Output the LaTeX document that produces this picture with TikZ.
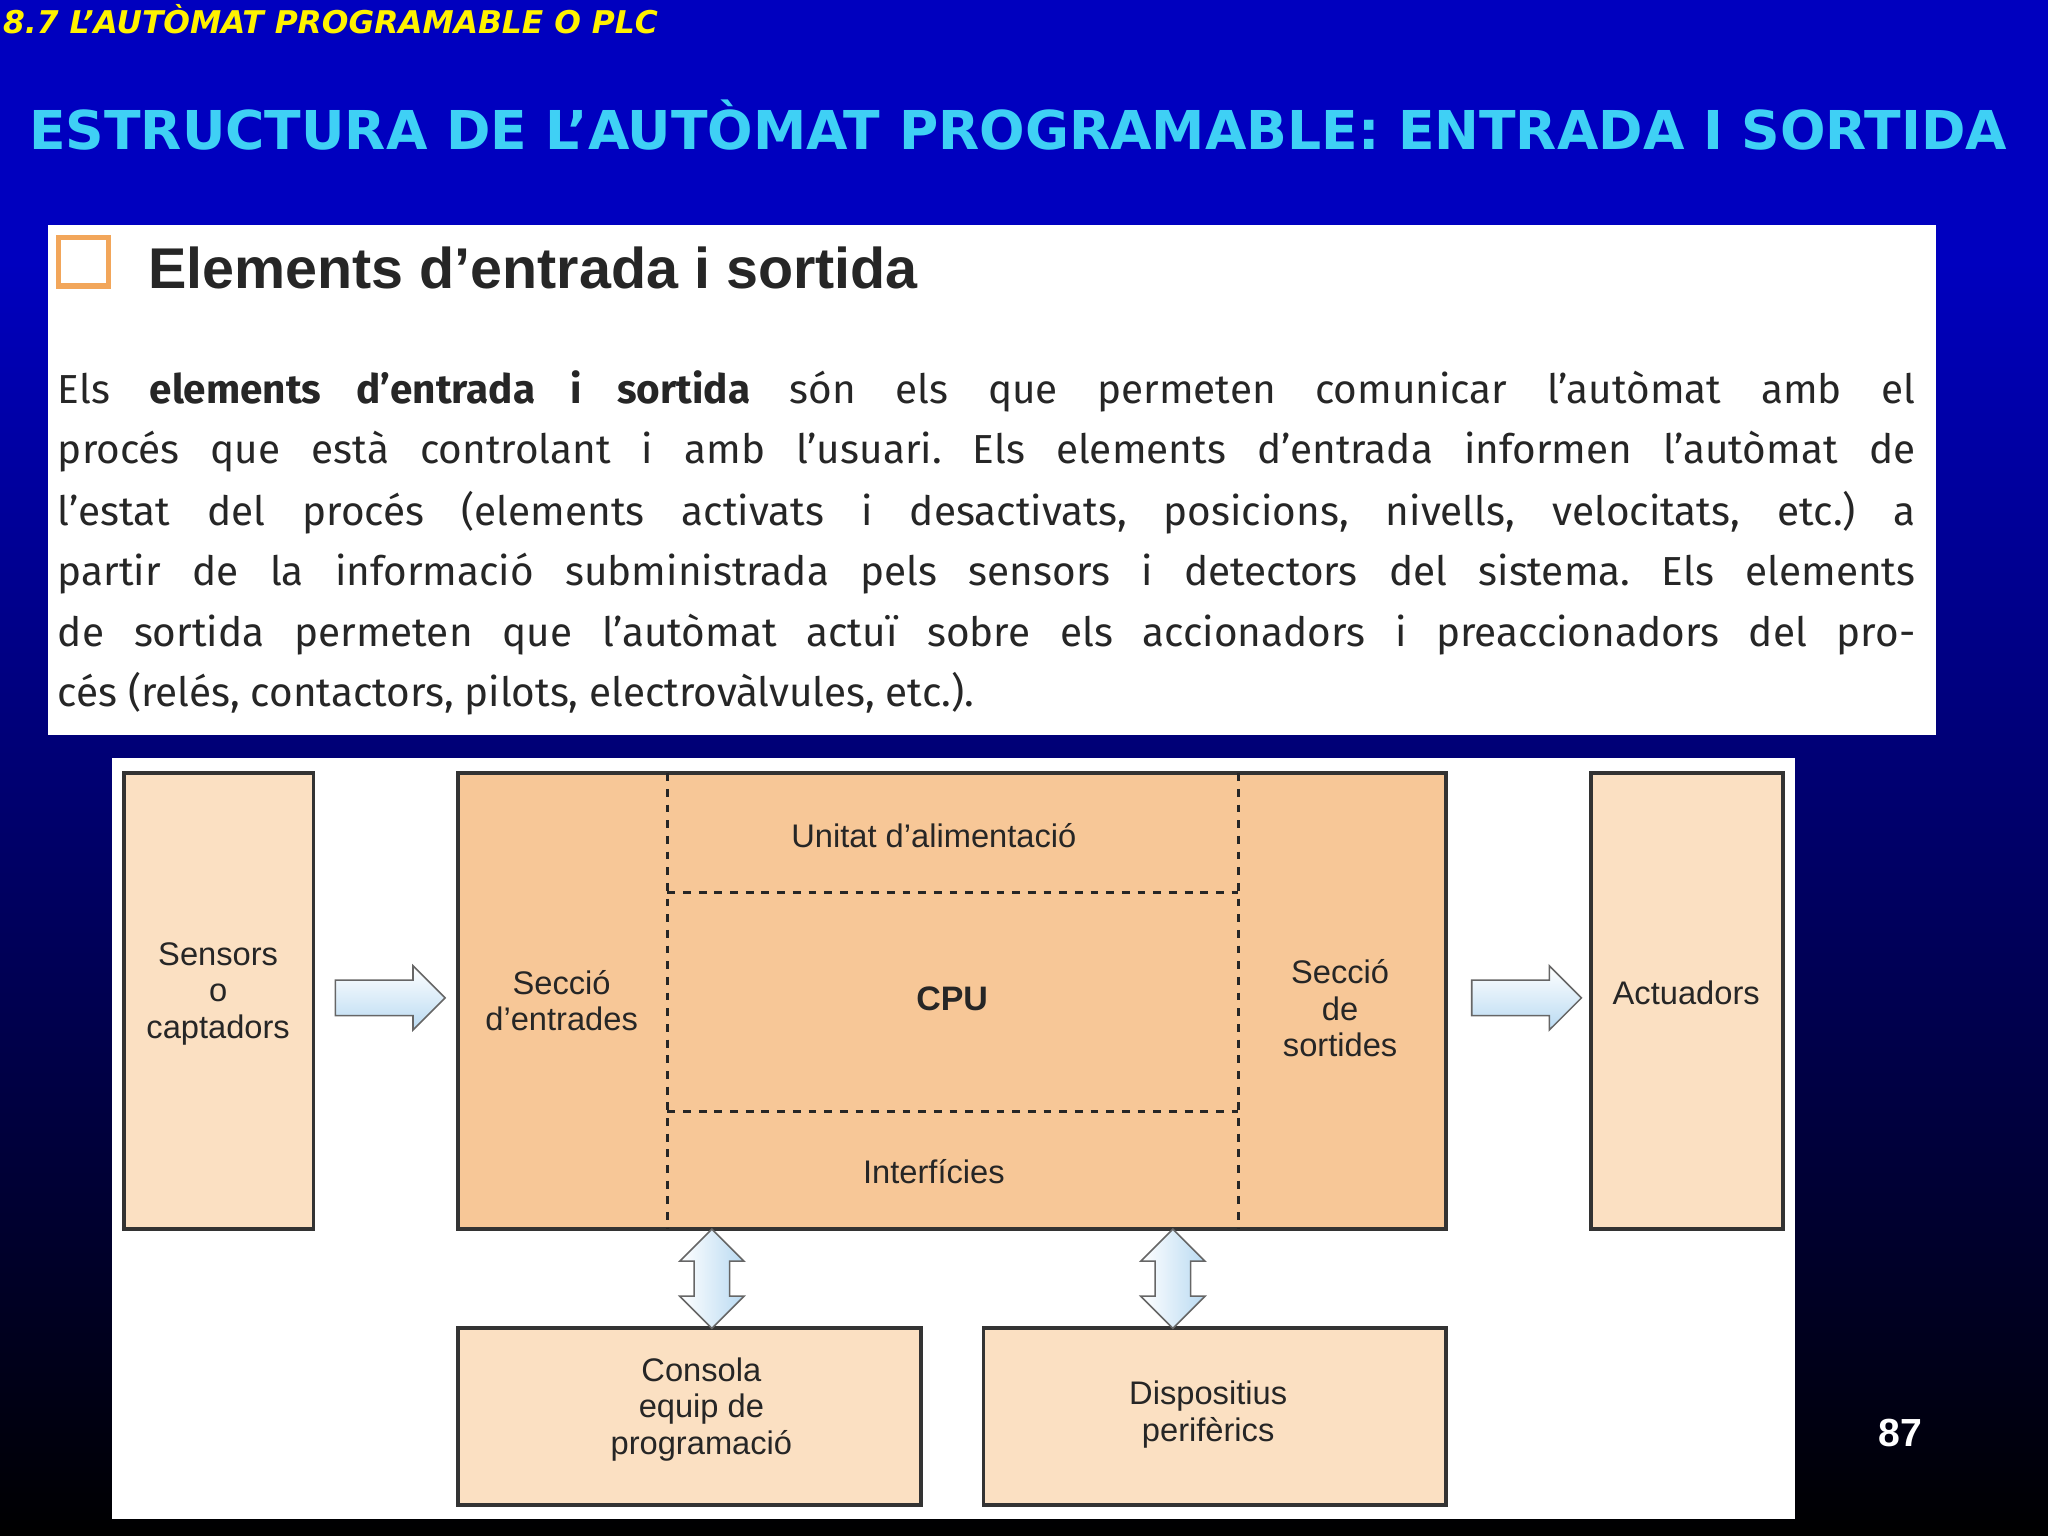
\documentclass[tikz,border=0pt]{standalone}
\usepackage{fontspec}
\setmainfont{Fira Sans}
\newfontfamily\hd{DejaVu Sans}
\newfontfamily\ls{Liberation Sans}
\usetikzlibrary{shapes.arrows}
\definecolor{peach}{HTML}{FBE0C2}
\definecolor{orng}{HTML}{F7C797}
\definecolor{ttl}{HTML}{3FD0F5}
\definecolor{arr}{HTML}{B9DAF2}
\tikzset{
 box/.style={draw=black!80,line width=1.5pt,inner sep=0pt},
 lbl/.style={font=\ls\fontsize{12.5}{14}\selectfont,align=center,text=black!85},
 barrow/.style={single arrow,draw=black!60,line width=0.6pt,top color=white,bottom color=arr,minimum height=42pt,minimum width=0pt,single arrow head extend=5.5pt,inner sep=0pt},
 darrow/.style={double arrow,draw=black!60,line width=0.6pt,left color=white,right color=arr,minimum height=38pt,minimum width=0pt,double arrow head extend=5.5pt,inner sep=0pt,rotate=90},
 dsh/.style={dashed,line width=1.2pt,black!85},
 pl/.style={anchor=base west,inner sep=0pt,font=\fontsize{15.5}{19}\selectfont\frenchspacing,text=black!85}
}
\begin{document}
\begin{tikzpicture}[x=0.5pt,y=-0.5pt]
\useasboundingbox (0,0) rectangle (1568,1176);
\fill[blue!75!black] (0,0) rectangle (1568,200);
\shade[top color=blue!75!black,bottom color=black] (0,200) rectangle (1568,1176);
\node[anchor=west,text=yellow,font=\hd\bfseries\itshape\fontsize{12}{14}\selectfont,inner sep=0pt] (sec) at (2,15) {8.7 L’AUTÒMAT PROGRAMABLE O PLC};
\node[anchor=west,text=ttl,font=\hd\bfseries\fontsize{20.5}{24}\selectfont,inner sep=0pt] (tit) at (22,96) {ESTRUCTURA DE L’AUTÒMAT PROGRAMABLE: ENTRADA I SORTIDA};
\fill[white] (37,172) rectangle (1482,563);
\draw[orange!70!brown!70,line width=2pt] (45,182) rectangle (83,219);
\node[anchor=base west,inner sep=0pt,font=\ls\bfseries\fontsize{22}{26}\selectfont,text=black!85] (hd) at (113,221) {Elements d’entrada i sortida};
\node[pl] (l1) at (44,309) {\makebox[711pt][s]{Els \textbf{elements d’entrada i sortida} són els que permeten comunicar l’autòmat amb el}};
\node[pl] (l2) at (44,355) {\makebox[711pt][s]{procés que està controlant i amb l’usuari. Els elements d’entrada informen l’autòmat de}};
\node[pl] (l3) at (44,402) {\makebox[711pt][s]{l’estat del procés (elements activats i desactivats, posicions, nivells, velocitats, etc.) a}};
\node[pl] (l4) at (44,448) {\makebox[711pt][s]{partir de la informació subministrada pels sensors i detectors del sistema. Els elements}};
\node[pl] (l5) at (44,495) {\makebox[711pt][s]{de sortida permeten que l’autòmat actuï sobre els accionadors i preaccionadors del pro-}};
\node[pl] (l6) at (44,541) {cés (relés, contactors, pilots, electrovàlvules, etc.).};
\fill[white] (86,580) rectangle (1374,1163);
\draw[box,fill=peach] (95,592) rectangle (240,941);
\node[lbl] (sens) at (167,761) {Sensors\\o\\captadors};
\draw[box,fill=orng] (351,592) rectangle (1107,941);
\draw[dsh] (511,592) -- (511,941) (948,592) -- (948,941) (511,683) -- (948,683) (511,851) -- (948,851);
\node[lbl] (se) at (430,766) {Secció\\d’entrades};
\node[lbl] (ua) at (715,640) {Unitat d’alimentació};
\node[lbl,font=\ls\bfseries\fontsize{13}{15}\selectfont] (cpu) at (729,765) {CPU};
\node[lbl] (int) at (715,897) {Interfícies};
\node[lbl] (ss) at (1026,772) {Secció\\de\\sortides};
\draw[box,fill=peach] (1218,592) rectangle (1365,941);
\node[lbl] (act) at (1291,760) {Actuadors};
\draw[box,fill=peach] (351,1017) rectangle (705,1152);
\node[lbl] (con) at (537,1079) {Consola\\equip de\\programació};
\draw[box,fill=peach] (753,1017) rectangle (1107,1152);
\node[lbl] (dis) at (925,1083) {Dispositius\\perifèrics};
\node[barrow] (a1) at (292,764) {\rule{0pt}{13pt}};
\node[barrow] (a2) at (1162,764) {\rule{0pt}{13pt}};
\node[darrow] (d1) at (545,979) {\rule{0pt}{13pt}};
\node[darrow] (d2) at (898,979) {\rule{0pt}{13pt}};
\node[text=white,font=\ls\bfseries\fontsize{15}{17}\selectfont] (pg) at (1455,1097) {87};
\end{tikzpicture}
\end{document}
